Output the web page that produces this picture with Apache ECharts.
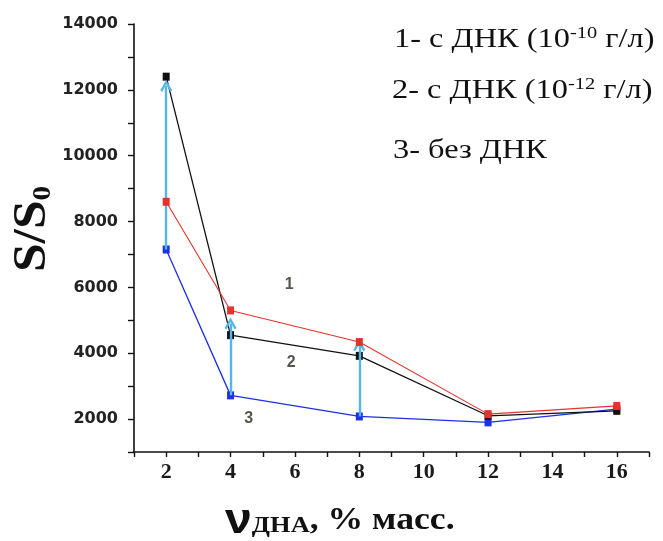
<!DOCTYPE html>
<html>
<head>
<meta charset="utf-8">
<script src="https://cdn.jsdelivr.net/npm/echarts@6/dist/echarts.min.js"></script>
<style>
  html, body { margin: 0; padding: 0; background: #fff; }
  #chart { width: 663px; height: 541px; }
</style>
</head>
<body>
<div id="chart"></div>
<script>
// DNA content in the film, % mass.
const xValues = [2, 4, 8, 12, 16];
// Curve 1: with DNA 1e-10 g/L (red)
const curve1 = [8600, 5300, 4340, 2150, 2400];
// Curve 2: with DNA 1e-12 g/L (black)
const curve2 = [12400, 4550, 3920, 2100, 2250];
// Curve 3: without DNA (blue)
const curve3 = [7150, 2720, 2080, 1900, 2300];

// Tick labels shown on the axes
const xTickLabels = [2, 4, 6, 8, 10, 12, 14, 16];
const yTickLabels = [2000, 4000, 6000, 8000, 10000, 12000, 14000];

// Curve number tags placed beside the lines
const tagText = ['1', '2', '3'];
const tagX = [5.82, 5.88, 4.56];
const tagY = [6090, 3730, 2000];

// Vertical arrows rising from curve 3 toward the curve above it
const arrowX = [2, 4, 8];
const arrowFrom = [7150, 2720, 2080];
const arrowTo = [12120, 4900, 4240];

const pair = (ys) => xValues.map((x, i) => [x, ys[i]]);

const arrowHead = 'path://M5,0 L10,8 L8.4,9.2 L5,3.6 L1.6,9.2 L0,8 Z';

const chart = echarts.init(document.getElementById('chart'), null, { renderer: 'canvas' });

const lineSeries = (name, ys, color, width, z) => ({
  name: name,
  type: 'line',
  data: pair(ys),
  z: z,
  symbol: 'rect',
  symbolSize: [7, 8],
  showSymbol: true,
  lineStyle: { color: color, width: width },
  itemStyle: { color: color },
  animation: false
});

const option = {
  backgroundColor: '#fff',
  animation: false,
  grid: { left: 134, right: 14, top: 24, bottom: 89 },
  xAxis: {
    type: 'value',
    min: 1, max: 17, interval: 1,
    axisLine: { show: true, lineStyle: { color: '#111', width: 1.6 } },
    axisTick: { show: true, length: 5, inside: false, lineStyle: { color: '#111', width: 1.4 } },
    splitLine: { show: false },
    axisLabel: {
      margin: 9,
      fontFamily: 'Liberation Serif',
      fontWeight: 'bold',
      fontSize: 22,
      color: '#1a1a1a',
      formatter: (v) => (xTickLabels.indexOf(v) >= 0 ? String(v) : '')
    }
  },
  yAxis: {
    type: 'value',
    min: 1000, max: 14000, interval: 1000,
    axisLine: { show: true, lineStyle: { color: '#111', width: 1.6 } },
    axisTick: { show: true, length: 6, inside: false, lineStyle: { color: '#111', width: 1.4 } },
    splitLine: { show: false },
    axisLabel: {
      margin: 16,
      fontFamily: 'DejaVu Sans',
      fontWeight: 'bold',
      fontSize: 16,
      color: '#222',
      formatter: (v) => (yTickLabels.indexOf(v) >= 0 ? String(v) : '')
    }
  },
  series: [
    lineSeries('3- без ДНК', curve3, '#1d30e2', 1.3, 3),
    lineSeries('2- с ДНК (10-12 г/л)', curve2, '#111111', 1.3, 4),
    lineSeries('1- с ДНК (10-10 г/л)', curve1, '#e5322d', 1.1, 5),
    {
      type: 'line',
      data: [],
      z: 6,
      silent: true,
      markLine: {
        silent: true,
        symbol: ['none', arrowHead],
        symbolSize: 12,
        label: { show: false },
        emphasis: { disabled: true },
        lineStyle: { color: '#55b6e6', width: 2.4, type: 'solid' },
        data: arrowX.map((x, j) => [
          { coord: [x, arrowFrom[j]] },
          { coord: [x, arrowTo[j]] }
        ])
      }
    },
    {
      type: 'scatter',
      silent: true,
      symbolSize: 0,
      data: tagText.map((t, i) => ({ value: [tagX[i], tagY[i]], name: t })),
      label: {
        show: true,
        position: 'inside',
        formatter: (p) => p.name,
        fontFamily: 'Liberation Sans',
        fontWeight: 'bold',
        fontSize: 16,
        color: '#2a2a22'
      }
    }
  ],
  graphic: [
    {
      type: 'text',
      x: 33, y: 229,
      rotation: Math.PI / 2,
      scaleX: 1.12,
      style: {
        text: '{m|S/S}{s|0}',
        align: 'center',
        verticalAlign: 'middle',
        rich: {
          m: { fontFamily: 'Liberation Serif', fontWeight: 'bold', fontSize: 46, lineHeight: 46, fill: '#111' },
          s: { fontFamily: 'Liberation Serif', fontWeight: 'bold', fontSize: 26, lineHeight: 26, verticalAlign: 'bottom', fill: '#111' }
        }
      }
    },
    {
      type: 'text',
      x: 225, y: 521,
      scaleX: 1.15,
      style: {
        text: '{v|ν}{s|ДНА}{m|, % масс.}',
        align: 'left',
        verticalAlign: 'middle',
        rich: {
          v: { fontFamily: 'Liberation Sans', fontWeight: 'bold', fontSize: 42, lineHeight: 34, fill: '#111' },
          s: { fontFamily: 'Liberation Serif', fontWeight: 'bold', fontSize: 23, lineHeight: 20, verticalAlign: 'bottom', fill: '#111' },
          m: { fontFamily: 'Liberation Serif', fontWeight: 'bold', fontSize: 31, lineHeight: 34, fill: '#111' }
        }
      }
    },
    {
      type: 'text',
      x: 394, y: 40,
      scaleX: 1.2,
      style: {
        text: '{t|1- с ДНК (10}{p|-10}{t| г/л)}',
        align: 'left', verticalAlign: 'middle',
        rich: {
          t: { fontFamily: 'Liberation Serif', fontSize: 27, lineHeight: 30, fill: '#111' },
          p: { fontFamily: 'Liberation Serif', fontSize: 17, lineHeight: 18, verticalAlign: 'top', fill: '#111' }
        }
      }
    },
    {
      type: 'text',
      x: 392, y: 91,
      scaleX: 1.2,
      style: {
        text: '{t|2- с ДНК (10}{p|-12}{t| г/л)}',
        align: 'left', verticalAlign: 'middle',
        rich: {
          t: { fontFamily: 'Liberation Serif', fontSize: 27, lineHeight: 30, fill: '#111' },
          p: { fontFamily: 'Liberation Serif', fontSize: 17, lineHeight: 18, verticalAlign: 'top', fill: '#111' }
        }
      }
    },
    {
      type: 'text',
      x: 393, y: 151,
      scaleX: 1.2,
      style: {
        text: '3- без ДНК',
        align: 'left', verticalAlign: 'middle',
        fontFamily: 'Liberation Serif', fontSize: 27, fill: '#111'
      }
    }
  ]
};

chart.setOption(option);
</script>
</body>
</html>
